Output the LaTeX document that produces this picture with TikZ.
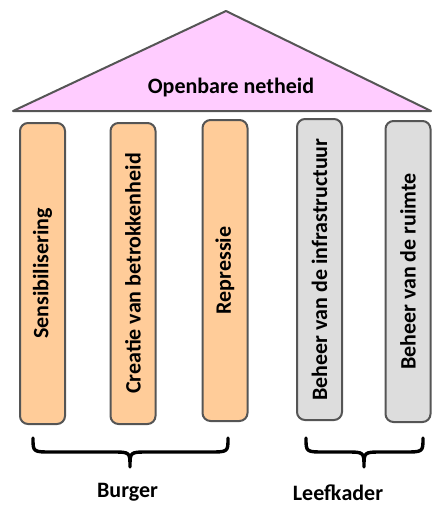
\documentclass[tikz,border=0pt]{standalone}
\usepackage{fontspec}
\setmainfont{Carlito}
\definecolor{roofpink}{HTML}{FFCCFF}
\definecolor{pilorange}{HTML}{FFCC99}
\definecolor{pilgray}{HTML}{DDDDDD}
\definecolor{edgegray}{HTML}{555555}
\begin{document}
\begin{tikzpicture}[x=1pt,y=-1pt,
  lbl/.style={font=\fontsize{22}{24}\selectfont\bfseries, inner sep=0pt},
  pillar/.style={draw=edgegray, line width=2pt, rounded corners=8pt, rotate=90,
    minimum width=301pt, minimum height=45pt, inner sep=0pt,
    font=\fontsize{22}{24}\selectfont\bfseries},
  orangep/.style={pillar, fill=pilorange},
  grayp/.style={pillar, fill=pilgray},
  bracepath/.style={draw=black, line width=3.4pt, line cap=round, line join=round}]
\useasboundingbox (0,0) rectangle (432,506);
% roof
\coordinate (rl) at (13,111);
\coordinate (rt) at (226,11);
\coordinate (rr) at (431,111);
\draw[draw=edgegray, line width=2pt, fill=roofpink, line join=round] (rl) -- (rt) -- (rr) -- cycle;
\node[lbl] (roof) at (231,88) {Openbare netheid};
% pillars
\node[orangep] (p1) at (42.5,273.5) {Sensibilisering};
\node[orangep] (p2) at (133,273.5) {Creatie van betrokkenheid};
\node[orangep] (p3) at (225,270.5) {Repressie};
\node[grayp] (p4) at (319.5,269.5) {Beheer van de infrastructuur};
\node[grayp] (p5) at (408,271.5) {Beheer van de ruimte};
% braces
\draw[bracepath] (33,438) .. controls (33,452) .. (52,452) -- (112,452)
  .. controls (130,452) .. (130,467) .. controls (130,452) .. (148,452)
  -- (209,452) .. controls (228,452) .. (228,438);
\draw[bracepath] (306,438) .. controls (306,452) .. (325,452) -- (346,452)
  .. controls (364,452) .. (364,467) .. controls (364,452) .. (382,452)
  -- (404,452) .. controls (423,452) .. (423,438);
% labels
\node[lbl] (burger) at (127.5,492) {Burger};
\node[lbl] (leef) at (338,493) {Leefkader};
\end{tikzpicture}
\end{document}
